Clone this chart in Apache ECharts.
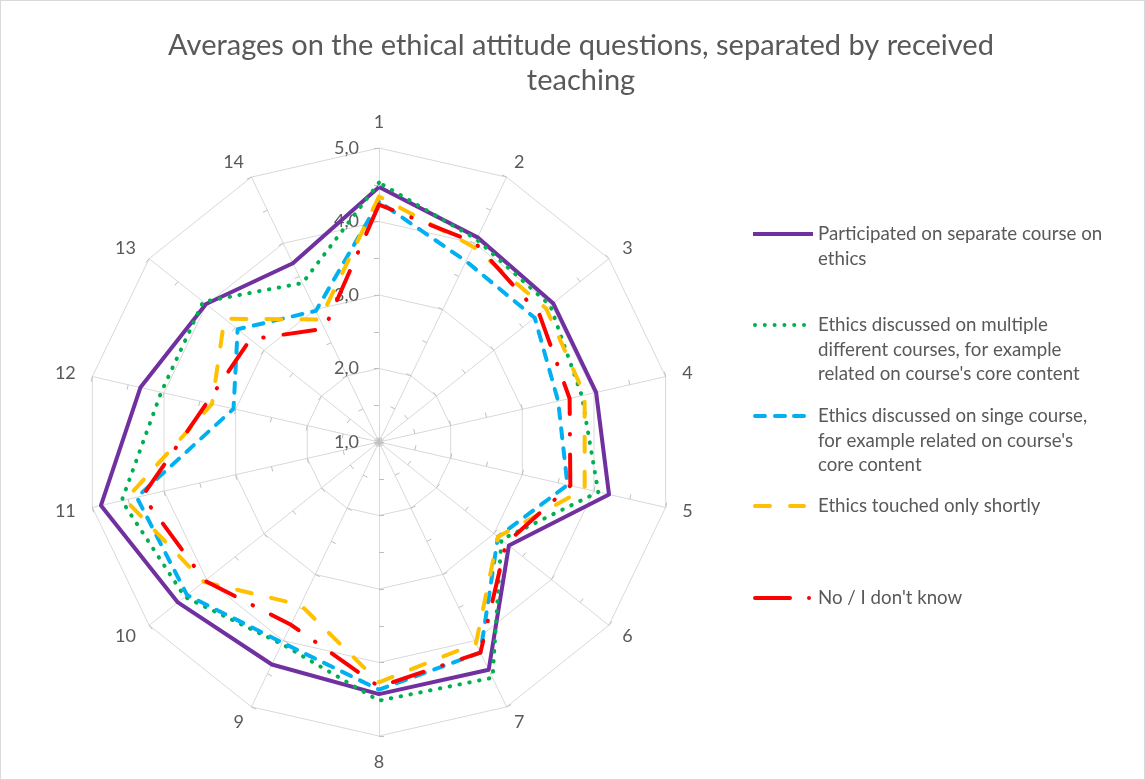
<!DOCTYPE html>
<html>
<head>
<meta charset="utf-8">
<script src="https://cdn.jsdelivr.net/npm/echarts@6/dist/echarts.min.js"></script>
<style>
html,body{margin:0;padding:0;background:#fff;}
#c{width:1145px;height:780px;box-sizing:border-box;border:1px solid #d9d9d9;}
</style>
</head>
<body>
<div id="c"></div>
<script>
// ---------- data ----------
const categories = ['1','2','3','4','5','6','7','8','9','10','11','12','13','14'];
const seriesNames = [
  'Participated on separate course on ethics',
  "Ethics discussed on multiple different courses, for example related on course's core content",
  "Ethics discussed on singe course, for example related on course's core content",
  'Ethics touched only shortly',
  "No / I don't know"
];
const participated = [4.47, 4.09, 4.03, 4.03, 4.21, 3.26, 4.44, 4.43, 4.36, 4.50, 4.88, 4.33, 4.01, 3.70];
const multiple     = [4.53, 4.06, 3.98, 3.83, 4.06, 3.13, 4.56, 4.52, 4.05, 4.38, 4.59, 4.04, 4.06, 3.40];
const single       = [4.27, 3.73, 3.71, 3.50, 3.63, 3.07, 4.18, 4.37, 4.03, 4.34, 4.38, 3.03, 3.46, 2.98];
const shortly      = [4.34, 3.95, 3.91, 3.87, 3.87, 3.07, 4.04, 4.27, 3.46, 4.05, 4.54, 3.33, 3.69, 2.85];
const noIdk        = [4.23, 4.01, 3.79, 3.66, 3.67, 3.21, 4.18, 4.33, 3.76, 4.03, 4.30, 3.40, 3.24, 2.71];
const axisMin = 1, axisMax = 5;
const legendLines = [
  ['Participated on separate course on', 'ethics'],
  ['Ethics discussed on multiple', 'different courses, for example', "related on course's core content"],
  ['Ethics discussed on singe course,', "for example related on course's", 'core content'],
  ['Ethics touched only shortly'],
  ["No / I don't know"]
];
const titleText = 'Averages on the ethical attitude questions, separated by received\nteaching';

// ---------- styles ----------
const FONT = 'Lato';
const TXT = '#595959';
const GRID = '#d9d9d9';
const colors = ['#7030A0', '#00B050', '#00B0F0', '#FFC000', '#FF0000'];
const dashes = ['solid', [0.5, 9.5], [10, 10], [15, 20], [32, 20, 0.5, 20]];
const caps = ['butt', 'round', 'round', 'round', 'round'];

function capsule(a, b) {
  return 'M' + (a + 2) + ',0H' + (b - 2) + 'A2,2 0 0,1 ' + (b - 2) + ',4H' + (a + 2) + 'A2,2 0 0,1 ' + (a + 2) + ',0Z';
}
function dot(cx) {
  return 'M' + (cx - 2) + ',2a2,2 0 1,0 4,0a2,2 0 1,0 -4,0';
}
const icons = [
  'path://M0,0H60V4H0Z',
  'path://M60,2' + [2, 11.8, 21.6, 31.4, 41.2, 51].map(dot).join(''),
  'path://M60,2' + capsule(0, 14) + capsule(20, 34) + capsule(39, 53),
  'path://M60,2' + capsule(0, 19) + capsule(35, 53),
  'path://M60,2' + capsule(0, 39) + dot(56)
];

// ECharts radar runs counter-clockwise; reorder so axes go clockwise like the reference
const order = [0].concat(categories.map((c, i) => i).slice(1).reverse());
const allValues = [participated, multiple, single, shortly, noIdk];

const indicator = order.map((i, k) => {
  const ind = { name: categories[i], min: axisMin, max: axisMax };
  if (k === 0) ind.axisLabel = { show: true };
  return ind;
});

const series = allValues.map((vals, s) => ({
  type: 'radar',
  name: seriesNames[s],
  symbol: 'none',
  silent: true,
  z: 2 + s,
  itemStyle: { color: colors[s] },
  lineStyle: { color: colors[s], width: 4, type: dashes[s], cap: caps[s], join: 'round' },
  emphasis: { disabled: true },
  data: [{ name: seriesNames[s], value: order.map(i => vals[i]) }]
}));

const LH = 24.5;
const iconY = [233, 324, 415, 505, 597];
const legends = legendLines.map((lines, i) => ({
  data: [{ name: seriesNames[i], icon: icons[i] }],
  left: 752,
  top: iconY[i] - (2 * lines.length - 1) * LH / 2,
  orient: 'vertical',
  padding: 0,
  itemGap: 0,
  itemWidth: 60,
  itemHeight: 4,
  selectedMode: false,
  itemStyle: { borderWidth: 0 },
  formatter: function () { return '\n'.repeat(lines.length - 1) + lines.join('\n'); },
  textStyle: { fontFamily: FONT, fontSize: 18.7, color: TXT, lineHeight: LH }
}));

const option = {
  animation: false,
  backgroundColor: '#fff',
  title: {
    text: titleText,
    left: 580,
    top: 27,
    textAlign: 'center',
    padding: 0,
    textStyle: { fontFamily: FONT, fontSize: 29, fontWeight: 'normal', color: TXT, lineHeight: 35 }
  },
  legend: legends,
  radar: {
    center: [378, 441],
    radius: 294,
    startAngle: 90,
    shape: 'polygon',
    splitNumber: 8,
    indicator: indicator,
    nameGap: 17,
    axisName: { color: TXT, fontFamily: FONT, fontSize: 18 },
    axisLine: { show: true, lineStyle: { color: GRID, width: 1 } },
    axisTick: { show: true, length: 5, lineStyle: { color: '#bfbfbf', width: 1 } },
    splitLine: { show: true, lineStyle: { color: [GRID, 'rgba(0,0,0,0)'], width: 1 } },
    splitArea: { show: false },
    axisLabel: {
      show: false,
      margin: 20,
      color: TXT,
      fontFamily: FONT,
      fontSize: 18,
      formatter: function (v) { return (Math.abs(v % 1) < 1e-9) ? v.toFixed(1).replace('.', ',') : ''; }
    }
  },
  series: series
};

const chart = echarts.init(document.getElementById('c'), null, { renderer: 'canvas' });
chart.setOption(option);
</script>
</body>
</html>
